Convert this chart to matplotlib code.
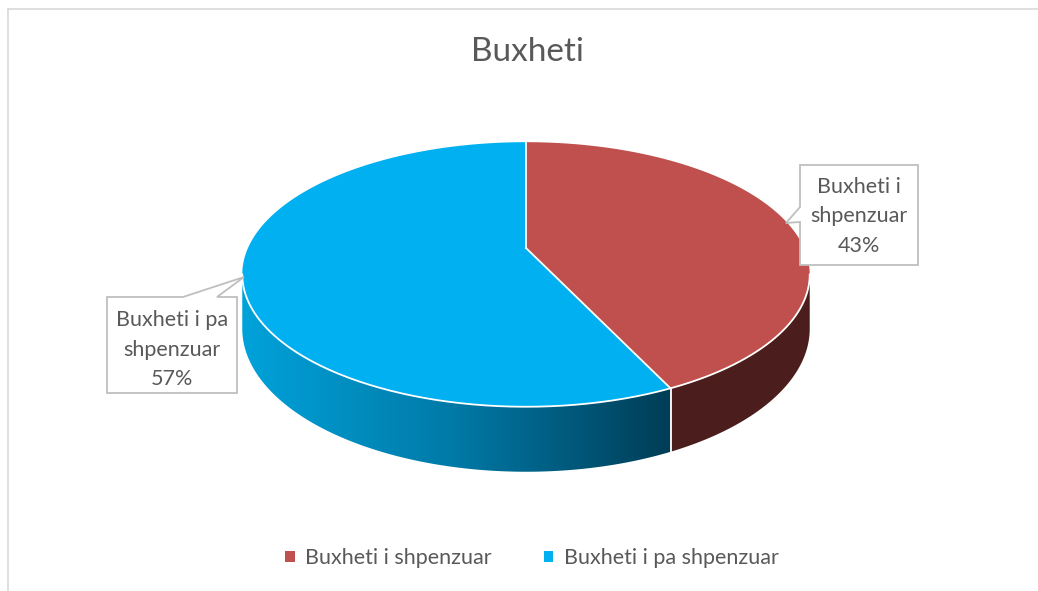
import numpy as np
import matplotlib
matplotlib.use("Agg")
import matplotlib.pyplot as plt
from matplotlib.patches import Polygon, Patch
from matplotlib.colors import LinearSegmentedColormap

plt.rcParams['font.family'] = ['Lato', 'DejaVu Sans']

title = "Buxheti"
labels = ["Buxheti i shpenzuar", "Buxheti i pa shpenzuar"]
label_lines = [["Buxheti i", "shpenzuar"], ["Buxheti i pa", "shpenzuar"]]
values = [43, 57]
top_colors = ["#C0504D", "#00B0F0"]
txt_col = "#595959"

# 3d pie geometry (pixels, y down) with a bit of perspective
cx, cy = 526, 248
A, B, k, D = 278, 127, 0.2, 52


def proj(phi, drop=0.0):
    phi = np.radians(phi)
    w = 1 + k * np.cos(phi)
    return cx + A * np.sin(phi) / w, cy - B * np.cos(phi) / w + drop / w


fig = plt.figure(figsize=(10.38, 5.91), dpi=100)
ax = fig.add_axes([0, 0, 1, 1])
ax.set_xlim(0, 1038)
ax.set_ylim(591, 0)
ax.axis("off")

# chart area border (only top/left visible in the crop)
ax.plot([8, 1038], [9, 9], color="#D9D9D9", lw=1.2)
ax.plot([8, 8], [9, 591], color="#D9D9D9", lw=1.2)

fracs = np.array(values, dtype=float) / sum(values)
starts = np.concatenate([[0], np.cumsum(fracs)[:-1]]) * 360
ends = np.cumsum(fracs) * 360

vis_lo = np.degrees(np.arccos(-k))
vis_hi = 360 - vis_lo

# sides
for i in range(len(values)):
    a, b = max(starts[i], vis_lo), min(ends[i], vis_hi)
    if a >= b:
        continue
    ph = np.linspace(a, b, 120)
    xt, yt = proj(ph)
    xb, yb = proj(ph[::-1], D)
    pts = np.column_stack([np.concatenate([xt, xb]), np.concatenate([yt, yb])])
    if i == 0:
        ax.add_patch(Polygon(pts, closed=True, fc="#4C1D1D", ec="none", zorder=2))
    else:
        poly = Polygon(pts, closed=True, fc="none", ec="none", zorder=2)
        ax.add_patch(poly)
        cmap = LinearSegmentedColormap.from_list("side", ["#00A2DA", "#0079A6", "#003D56"])
        grad = np.linspace(0, 1, 256).reshape(1, -1)
        im = ax.imshow(grad, cmap=cmap, aspect="auto",
                       extent=(pts[:, 0].min(), pts[:, 0].max(), pts[:, 1].max(), pts[:, 1].min()),
                       zorder=2)
        im.set_clip_path(poly)

# top faces
for i in range(len(values)):
    ph = np.linspace(starts[i], ends[i], 200)
    x, y = proj(ph)
    pts = np.column_stack([np.concatenate([[cx], x]), np.concatenate([[cy], y])])
    ax.add_patch(Polygon(pts, closed=True, fc=top_colors[i], ec="none", zorder=3))

# white edges
ph = np.linspace(vis_lo, vis_hi, 300)
x, y = proj(ph)
ax.plot(x, y, color="white", lw=1.3, zorder=4)
for ang in starts:
    x1, y1 = proj(ang)
    ax.plot([cx, x1], [cy, y1], color="white", lw=1.3, zorder=4)
    if vis_lo < ang < vis_hi:
        x2, y2 = proj(ang, D)
        ax.plot([x1, x2], [y1, y2], color="white", lw=1.3, zorder=4)

ax.set_xlim(0, 1038)
ax.set_ylim(591, 0)

# callouts
box_red = [(800, 165), (918, 165), (918, 265), (800, 265), (800, 222), (786, 223), (800, 207)]
box_blue = [(107, 297), (183, 297), (244, 277), (217, 297), (237, 297), (237, 393), (107, 393)]
for box in (box_red, box_blue):
    ax.add_patch(Polygon(box, closed=True, fc="white", ec="#BFBFBF", lw=1.3, zorder=5))

text_pos = [(859, 187), (172, 320)]
for i, (tx, ty) in enumerate(text_pos):
    lines = label_lines[i] + [f"{values[i]}%"]
    for j, ln in enumerate(lines):
        ax.text(tx, ty + j * 29.5, ln, ha="center", va="center", fontsize=15.5, color=txt_col, zorder=6)

ax.text(527, 52, title, ha="center", va="center", fontsize=24, color=txt_col)

handles = [Patch(facecolor=c, edgecolor="none") for c in top_colors]
leg = ax.legend(handles, labels, loc="center", bbox_to_anchor=(532 / 1038, 1 - 558 / 591),
                ncol=2, frameon=False, fontsize=15.5, handlelength=0.45, handleheight=0.45,
                handletextpad=0.5, columnspacing=2.4)
for t in leg.get_texts():
    t.set_color(txt_col)

fig.savefig("out.png", dpi=100)
